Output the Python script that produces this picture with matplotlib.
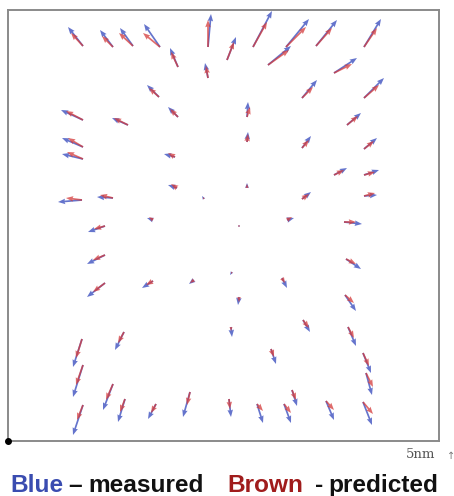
import matplotlib
matplotlib.use("Agg")
import matplotlib.pyplot as plt
import numpy as np

# Tail positions of the displacement vectors (plot units, origin bottom-left)
X = [75, 105, 125, 152, 170, 200, 200, 219, 245, 260, 278, 308, 356, 326, 294, 356,
     151, 170, 239, 339, 75, 120, 75, 239, 294, 356, 75, 167, 326, 356, 169, 239,
     74, 105, 196, 294, 356, 145, 279, 336, 97, 231, 97, 338, 224, 274, 145, 186,
     97, 231, 337, 223, 295, 340, 116, 74, 263, 355, 75, 358, 105, 284, 182, 117,
     221, 318, 355, 249, 276, 148, 75]
Y = [395, 394, 395, 394, 374, 394, 363, 381, 394, 376, 394, 395, 394, 368, 343, 343,
     344, 324, 324, 316, 321, 316, 294, 299, 293, 292, 282, 284, 266, 266, 253, 253,
     241, 243, 242, 242, 245, 221, 221, 219, 215, 215, 186, 182, 169, 163, 160, 161,
     158, 144, 146, 114, 121, 114, 109, 102, 92, 88, 76, 68, 57, 51, 49, 42,
     42, 40, 39, 37, 37, 37, 36]

# Measured displacement (blue)
U_meas = [-15, -13, -13, -16, -8, 3, -3, 9, 19, 23, 23, 21, 17, 23, 15, 20,
          -12, -10, 1, 14, -22, -16, -21, 1, 9, 13, -21, -11, 13, 15, -9, 0,
          -24, -16, -2, 9, 13, -6, 7, 18, -17, -0.5, -18, 15, -2, 5, -11, -5,
          -18, -1, 11, 1, 7, 8, -9, -9, 5, 8, -10, 6, -10, 5, -7, -7,
          2, 8, 9, 6, 7, -8, -10]
V_meas = [19, 17, 18, 23, 19, 33, 15, 23, 36, 19, 28, 26, 28, 15, 18, 20,
          12, 10, 15, 12, 10, 7, 9, 10, 12, 11, 5, 3, 7, 5, 3, 5,
          -2, 1, 3, 7, 1, 2, 2, -2, -6, 0.5, -9, -10, -3, -10, -7, -4,
          -14, -8, -16, -10, -12, -19, -18, -28, -15, -20, -32, -22, -26, -16, -25, -23,
          -18, -19, -23, -19, -19, -15, -30]

# Predicted displacement (brown)
U_pred = [-12, -11, -14, -17, -7, 0, -2, 7, 14, 21, 20, 16, 13, 18, 11, 15,
          -10, -8, 3, 11, -17, -14, -15, 1, 7, 10, -16, -7, 10, 11, -6, 0,
          -16, -13, -1, 7, 11, -4, 5, 12, -11, 1, -12, 10, -1, 3, -7, -4,
          -12, 0, 9, 0, 6, 6, -6, -6, 3, 6, -7, 7, -7, 4, -3, -5,
          1, 8, 10, 6, 7, -5, -6]
V_pred = [13, 11, 13, 14, 15, 27, 12, 18, 25, 15, 20, 18, 19, 9, 11, 13,
          9, 8, 10, 9, 9, 7, 9, 8, 8, 8, 7, 4, 5, 3, 4, 4,
          2, 3, 2, 5, 3, 3, 3, 0, -3, 1, -5, -5, -2, -5, -4, -3,
          -9, -5, -8, -4, -8, -11, -11, -19, -8, -13, -20, -14, -16, -10, -13, -13,
          -10, -9, -12, -7, -9, -9, -15]

legend_words = ["Blue", "\u2013", "measured", "Brown", "-", "predicted"]
legend_colors = ["#3a4cb0", "#111111", "#111111", "#a01c1c", "#111111", "#111111"]
scale_label = "5nm"

W, H = 454, 496
fig = plt.figure(figsize=(W / 100, H / 100), dpi=100)
ax = fig.add_axes([8 / W, (H - 441) / H, 431 / W, 431 / H])
ax.set_xlim(0, 431)
ax.set_ylim(0, 431)
ax.set_xticks([])
ax.set_yticks([])
for s in ax.spines.values():
    s.set_color("#8a8a8a")
    s.set_linewidth(1.4)

qkw = dict(angles="xy", scale_units="xy", scale=1, width=0.004,
           headwidth=3.2, headlength=4.2, headaxislength=3.8)
ax.quiver(X, Y, U_meas, V_meas, color="#4a5cc4", alpha=0.85, zorder=3, **qkw)
ax.quiver(X, Y, U_pred, V_pred, color="#d43a3a", alpha=0.75, zorder=4, **qkw)

ax.plot([0], [0], "o", color="black", ms=4, clip_on=False, zorder=5)

fig.text(435 / W, (H - 458) / H, scale_label, ha="right", va="baseline",
         fontsize=9.5, family="DejaVu Serif", color="#555555")
fig.text(451 / W, (H - 459) / H, "\u2191", ha="center", va="baseline",
         fontsize=7, color="#777777")

xs = [10, 68, 88, 227, 315, 328]
for txt, col, x0 in zip(legend_words, legend_colors, xs):
    fig.text(x0 / W, 4 / H, txt, ha="left", va="baseline", fontsize=17.6,
             family="Liberation Sans", weight="bold", color=col)

fig.savefig("out.png", dpi=100)
